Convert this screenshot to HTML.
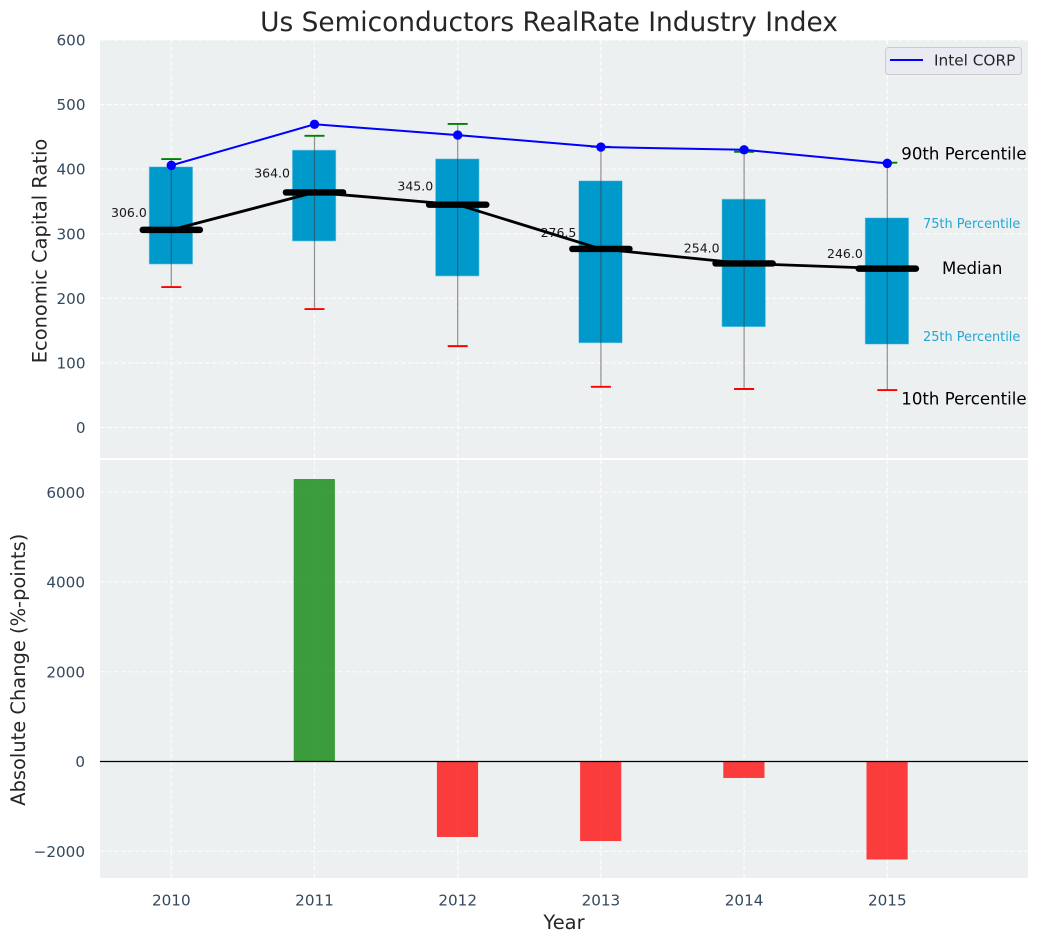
<!DOCTYPE html>
<html lang="en">
<head>
<meta charset="utf-8">
<title>Us Semiconductors RealRate Industry Index</title>
<style>
html,body{margin:0;padding:0;background:#fff;width:1039px;height:942px;overflow:hidden}
svg{display:block}
text{font-family:"DejaVu Sans","Liberation Sans",sans-serif}
.tick{font-size:15.2px;fill:#34495e}
.axis-title{font-size:19.45px;fill:#262626}
.note{font-size:16.6px;fill:#000}
.note-box{font-size:12.9px;fill:#0099cc;fill-opacity:.85}
.val{font-size:12.5px;fill:#000;fill-opacity:.9}
</style>
</head>
<body>
<svg id="chart" xmlns="http://www.w3.org/2000/svg" width="1039" height="942" viewBox="0 0 1039 942">
  <rect x="100" y="40" width="928" height="418" fill="#ecf0f1"/>
  <rect x="100" y="460" width="928" height="418" fill="#ecf0f1"/>
  <g id="grid"></g>
  <g id="bars"></g>
  <g id="boxes"></g>
  <g id="series"></g>
  <g id="ticks"></g>
  <g id="notes"></g>
  <text x="549" y="31" text-anchor="middle" font-size="26.4" fill="#262626">Us Semiconductors RealRate Industry Index</text>
  <text class="axis-title" transform="translate(46.5,251) rotate(-90)" text-anchor="middle">Economic Capital Ratio</text>
  <text class="axis-title" transform="translate(25,669.7) rotate(-90)" text-anchor="middle">Absolute Change (%-points)</text>
  <text class="axis-title" x="564" y="929" text-anchor="middle">Year</text>
  <g>
    <rect x="885.5" y="47.5" width="136" height="27" rx="3" fill="#eaeaf2" stroke="#cccccc" stroke-width="1"/>
    <line x1="890" y1="60" x2="923" y2="60" stroke="#0000ff" stroke-width="2"/>
    <text x="934" y="65.5" font-size="15.3" fill="#262626">Intel CORP</text>
  </g>
</svg>
<script>
const years = [2010, 2011, 2012, 2013, 2014, 2015];
const p90 = [415.6, 451.7, 470, 434.7, 427, 410];
const p75 = [403.7, 429.6, 416, 382, 353.7, 324.7];
const medians = [306, 364, 345, 276.5, 254, 246];
const p25 = [253, 288.7, 234.5, 131, 156, 129];
const p10 = [217.5, 183.4, 126, 63, 59.6, 58];
const intel = [405.9, 469.5, 452.8, 434.3, 430, 409];
const changes = [null, 6295, -1682, -1772, -367, -2184];
const topTicks = [0, 100, 200, 300, 400, 500, 600];
const bottomTicks = [-2000, 0, 2000, 4000, 6000];

const NS = 'http://www.w3.org/2000/svg';
const L = 100, R = 1028;
const x = v => 171.3 + (v - 2010) * 143.2;
const yTop = v => 427.5 - v * 0.6458;
const yBot = v => 761.5 - v * 0.044875;

function mk(parent, tag, attrs, text) {
  const el = document.createElementNS(NS, tag);
  for (const k in attrs) el.setAttribute(k, attrs[k]);
  if (text !== undefined) el.textContent = text;
  document.getElementById(parent).appendChild(el);
  return el;
}
const gridStyle = {stroke: '#ffffff', 'stroke-width': 1.1, 'stroke-dasharray': '4.5 2.5', 'stroke-opacity': .9};

topTicks.forEach(t => {
  const g = mk('grid', 'line', Object.assign({x1: L, x2: R, y1: yTop(t), y2: yTop(t)}, gridStyle));
  
  
  const l = mk('ticks', 'text', {class: 'tick', x: 85.5, y: yTop(t) + 5.5, 'text-anchor': 'end'}, String(t));
  
  
});
bottomTicks.forEach(t => {
  const g = mk('grid', 'line', Object.assign({x1: L, x2: R, y1: yBot(t), y2: yBot(t)}, gridStyle));
  
  
  const l = mk('ticks', 'text', {class: 'tick', x: 85, y: yBot(t) + 5.5, 'text-anchor': 'end'}, String(t).replace('-', '\u2212'));
  
  
});
years.forEach(yr => {
  const g1 = mk('grid', 'line', Object.assign({x1: x(yr), x2: x(yr), y1: 40, y2: 458}, gridStyle));
  
  
  const g2 = mk('grid', 'line', Object.assign({x1: x(yr), x2: x(yr), y1: 460, y2: 878}, gridStyle));
  
  
  const l = mk('ticks', 'text', {class: 'tick', x: x(yr), y: 905.5, 'text-anchor': 'middle'}, String(yr));
  
  
});

/* change bars */
changes.forEach((c, i) => {
  if (c === null) return;
  const px = x(years[i]);
  const b = mk('bars', 'rect', {
    x: px - 20.8, width: 41.2,
    y: Math.min(yBot(c), yBot(0)), height: Math.abs(yBot(c) - yBot(0)),
    fill: c >= 0 ? '#008000' : '#ff0000', 'fill-opacity': .75
  });
  
  
});
const zero = mk('bars', 'line', {x1: L, x2: R, y1: yBot(0), y2: yBot(0), stroke: '#000', 'stroke-width': 1.2});



/* boxes and whiskers */
years.forEach((yr, i) => {
  const px = x(yr);
  const box = mk('boxes', 'rect', {
    x: px - 22.2, width: 43.6, y: yTop(p75[i]), height: yTop(p25[i]) - yTop(p75[i]),
    fill: '#0099cc', stroke: '#8fd0e6', 'stroke-width': .6
  });
  
  
  const w = mk('boxes', 'line', {x1: px, x2: px, y1: yTop(p90[i]), y2: yTop(p10[i]), stroke: '#3a3a3a', 'stroke-opacity': .55, 'stroke-width': 1.2});
  
  
  const hi = mk('boxes', 'line', {x1: px - 10, x2: px + 10, y1: yTop(p90[i]), y2: yTop(p90[i]), stroke: '#008000', 'stroke-width': 1.9});
  
  
  const lo = mk('boxes', 'line', {x1: px - 10, x2: px + 10, y1: yTop(p10[i]), y2: yTop(p10[i]), stroke: '#ff0000', 'stroke-width': 1.9});
  
  
});

/* median line */
const medLine = mk('series', 'polyline', {
  points: years.map((yr, i) => x(yr) + ',' + yTop(medians[i])).join(' '),
  fill: 'none', stroke: '#000', 'stroke-width': 2.8
});


years.forEach((yr, i) => {
  const px = x(yr), py = yTop(medians[i]);
  const m = mk('series', 'line', {x1: px - 28.6, x2: px + 28.6, y1: py, y2: py, stroke: '#000', 'stroke-width': 6.4, 'stroke-linecap': 'round'});
  
  
  const t = mk('series', 'text', {class: 'val', x: px - 24.5, y: yTop(medians[i] * 1.06) - 1, 'text-anchor': 'end'}, medians[i].toFixed(1));
  
  
});

/* Intel line */
const line = mk('series', 'polyline', {
  points: years.map((yr, i) => x(yr) + ',' + yTop(intel[i])).join(' '),
  fill: 'none', stroke: '#0000ff', 'stroke-width': 2
});


years.forEach((yr, i) => {
  const d = mk('series', 'circle', {cx: x(yr), cy: yTop(intel[i]), r: 4.7, fill: '#0000ff'});
  
  
});

/* annotations beside the last box */
const lastX = x(years[years.length - 1]);
const n = years.length - 1;
const a90 = mk('notes', 'text', {class: 'note', x: lastX + 14, y: yTop(p90[n]) - 3}, '90th Percentile');


const a75 = mk('notes', 'text', {class: 'note-box', x: lastX + 35.7, y: yTop(p75[n]) + 10.3}, '75th Percentile');


const aMed = mk('notes', 'text', {class: 'note', x: lastX + 54.7, y: yTop(medians[n]) + 5.5}, 'Median');


const a25 = mk('notes', 'text', {class: 'note-box', x: lastX + 35.7, y: yTop(p25[n]) - 3}, '25th Percentile');


const a10 = mk('notes', 'text', {class: 'note', x: lastX + 14, y: yTop(p10[n]) + 14.7}, '10th Percentile');


</script>
</body>
</html>
